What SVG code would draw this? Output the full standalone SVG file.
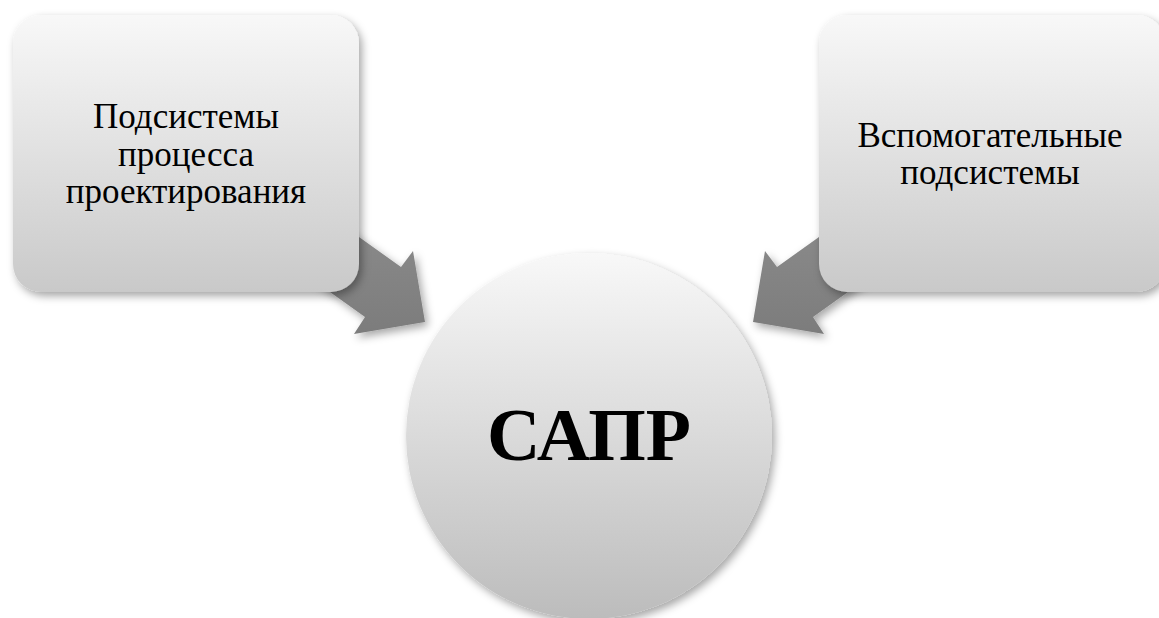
<svg xmlns="http://www.w3.org/2000/svg" width="1159" height="618" viewBox="0 0 1159 618">
  <defs>
    <linearGradient id="gBox" x1="0" y1="0" x2="0" y2="1">
      <stop offset="0" stop-color="#f8f8f8"/>
      <stop offset="1" stop-color="#c9c9c9"/>
    </linearGradient>
    <linearGradient id="gCircle" x1="0" y1="0" x2="0" y2="1">
      <stop offset="0" stop-color="#f8f8f8"/>
      <stop offset="1" stop-color="#bcbcbc"/>
    </linearGradient>
    <linearGradient id="gArrow" x1="0" y1="0" x2="0" y2="1">
      <stop offset="0" stop-color="#8e8e8e"/>
      <stop offset="1" stop-color="#7c7c7c"/>
    </linearGradient>
    <filter id="shadow" x="-20%" y="-20%" width="140%" height="140%">
      <feDropShadow dx="3" dy="4" stdDeviation="4" flood-color="#000" flood-opacity="0.35"/>
    </filter>
  </defs>
  <style>
    .box { fill: url(#gBox); filter: url(#shadow); }
    .circle { fill: url(#gCircle); filter: url(#shadow); }
    .arrow { fill: url(#gArrow); filter: url(#shadow); }
    .lbl { font-family: "Liberation Serif", "Times New Roman", serif; font-size: 35px; fill: #000; text-anchor: middle; }
    .big { font-family: "Liberation Serif", "Times New Roman", serif; font-size: 74px; font-weight: bold; fill: #000; text-anchor: middle; }
  </style>
  <rect width="1159" height="618" fill="#ffffff"/>
  <g id="connectors">
    <polygon class="arrow" points="303,197 401,267 413,251 425,322 354,334 365,317 267,247"/>
    <polygon class="arrow" points="875,197 777,267 765,251 753,322 824,334 813,317 911,247"/>
  </g>
  <g id="node-left">
    <rect class="box" x="13" y="15" width="346" height="277" rx="28" ry="28"/>
    <text class="lbl" x="186" y="128">Подсистемы</text>
    <text class="lbl" x="186" y="166">процесса</text>
    <text class="lbl" x="186" y="203">проектирования</text>
  </g>
  <g id="node-right">
    <rect class="box" x="819" y="15" width="346" height="277" rx="28" ry="28"/>
    <text class="lbl" x="990" y="147">Вспомогательные</text>
    <text class="lbl" x="990" y="184">подсистемы</text>
  </g>
  <g id="node-center">
    <circle class="circle" cx="589" cy="436" r="183"/>
    <text class="big" x="589" y="460">САПР</text>
  </g>
</svg>
